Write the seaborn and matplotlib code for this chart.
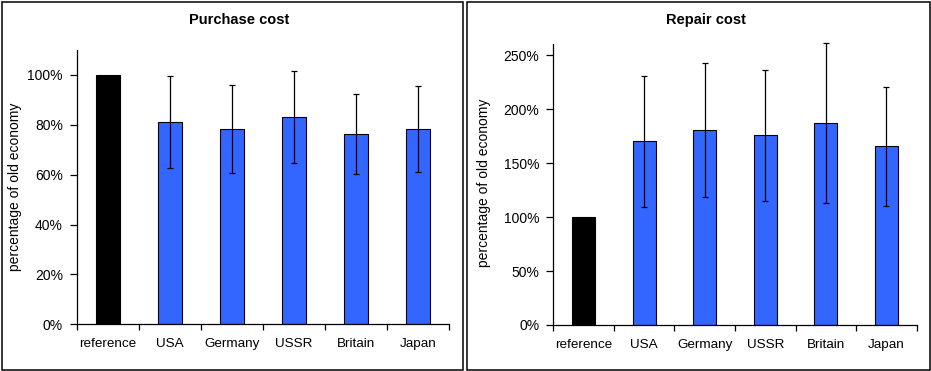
import matplotlib
matplotlib.use("Agg")
import matplotlib.pyplot as plt
import seaborn as sns
import pandas as pd
from matplotlib.patches import Rectangle
from matplotlib.ticker import FuncFormatter, FixedLocator

# ---- data ----
categories = ["reference", "USA", "Germany", "USSR", "Britain", "Japan"]
purchase_values = [100, 81.1, 78.3, 83.1, 76.3, 78.3]
purchase_errors = [0, 18.5, 17.7, 18.4, 16.1, 17.2]
repair_values = [100, 170.3, 180.5, 175.8, 187.0, 165.6]
repair_errors = [0, 60.7, 62.2, 60.7, 74.2, 55.2]
purchase_yticks = [0, 20, 40, 60, 80, 100]
repair_yticks = [0, 50, 100, 150, 200, 250]
titles = ["Purchase cost", "Repair cost"]
ylabel = "percentage of old economy"

bar_colors = ["#000000", "#3366FF", "#3366FF", "#3366FF", "#3366FF", "#3366FF"]

sns.set_theme(style="white")
plt.rcParams["font.family"] = ["Liberation Sans", "DejaVu Sans"]

W, H = 931, 371
fig = plt.figure(figsize=(W / 100, H / 100), dpi=100)
fig.patch.set_facecolor("white")

def px_rect(x0, y0, x1, y1):
    return [x0 / W, 1 - y1 / H, (x1 - x0) / W, (y1 - y0) / H]

# frame boxes
for (x0, x1) in [(1.5, 463), (467, 929.5)]:
    fig.add_artist(Rectangle((x0 / W, 1.5 / H), (x1 - x0) / W, (369 - 1.5) / H,
                             transform=fig.transFigure, fill=False,
                             edgecolor="black", linewidth=1.1))

panels = [
    dict(rect=px_rect(76.7, 50, 449.3, 324.3), vals=purchase_values, errs=purchase_errors,
         yticks=purchase_yticks, ylim=110, title=titles[0], tx=238.7, lx=15, ly=187),
    dict(rect=px_rect(553.3, 43.7, 916.7, 325), vals=repair_values, errs=repair_errors,
         yticks=repair_yticks, ylim=260.5, title=titles[1], tx=705.7, lx=484, ly=183),
]

for p in panels:
    ax = fig.add_axes(p["rect"])
    df = pd.DataFrame({"cat": categories, "val": p["vals"]})
    sns.barplot(data=df, x="cat", y="val", hue="cat", palette=bar_colors,
                legend=False, ax=ax, width=0.38, edgecolor="black", linewidth=0.8,
                saturation=1)
    xs = list(range(len(categories)))
    ax.errorbar(xs[1:], p["vals"][1:], yerr=p["errs"][1:], fmt="none",
                ecolor="black", elinewidth=0.9, capsize=2.3, capthick=0.9, clip_on=False)
    ax.set_xlim(-0.5, len(categories) - 0.5)
    ax.set_ylim(0, p["ylim"])
    ax.set_yticks(p["yticks"])
    ax.yaxis.set_major_formatter(FuncFormatter(lambda v, _: f"{v:.0f}%"))
    ax.set_xlabel("")
    ax.set_ylabel("")
    ax.xaxis.set_minor_locator(FixedLocator([i - 0.5 for i in range(len(categories) + 1)]))
    ax.tick_params(axis="x", which="major", length=0, pad=10, labelsize=9.7, colors="black")
    ax.tick_params(axis="x", which="minor", length=4, width=0.9, direction="out",
                   bottom=True, color="black")
    ax.tick_params(axis="y", which="major", length=5, width=0.9, direction="out",
                   left=True, pad=5, labelsize=10, colors="black")
    for s in ["top", "right"]:
        ax.spines[s].set_visible(False)
    for s in ["left", "bottom"]:
        ax.spines[s].set_color("black")
        ax.spines[s].set_linewidth(0.9)
    ax.set_facecolor("white")
    fig.text(p["tx"] / W, 1 - 20 / H, p["title"], ha="center", va="center",
             fontsize=10.5, fontweight="bold", color="black")
    fig.text(p["lx"] / W, 1 - p["ly"] / H, ylabel, ha="center", va="center",
             rotation=90, fontsize=10, color="black")

fig.savefig("out.png", dpi=100, facecolor="white")
